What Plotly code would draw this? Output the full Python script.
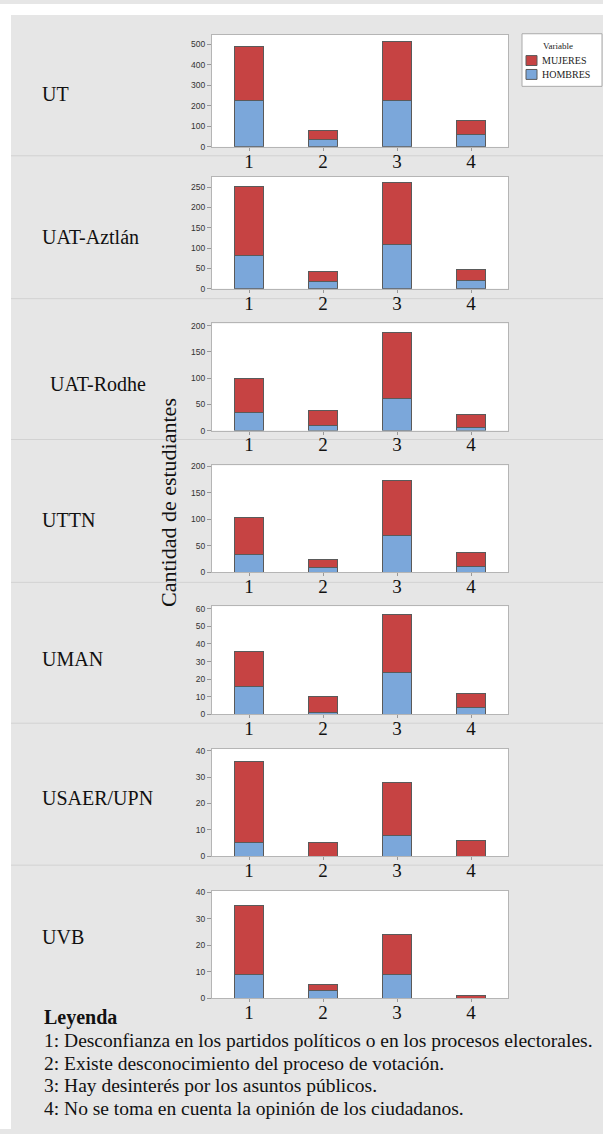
import plotly.graph_objects as go

W, H = 603, 1134

categories = [1, 2, 3, 4]
tick_labels = ["1", "2", "3", "4"]
institutions = ["UT", "UAT-Aztlán", "UAT-Rodhe", "UTTN", "UMAN", "USAER/UPN", "UVB"]

hombres = {
    "UT": [224, 38, 224, 62],
    "UAT-Aztlán": [83, 17, 109, 20],
    "UAT-Rodhe": [35, 9, 62, 6],
    "UTTN": [34, 10, 70, 12],
    "UMAN": [16, 1, 24, 4],
    "USAER/UPN": [5, 0, 8, 0],
    "UVB": [9, 3, 9, 0],
}
mujeres = {
    "UT": [266, 42, 289, 68],
    "UAT-Aztlán": [169, 26, 152, 28],
    "UAT-Rodhe": [65, 29, 125, 25],
    "UTTN": [70, 15, 103, 26],
    "UMAN": [20, 9, 33, 8],
    "USAER/UPN": [31, 5, 20, 6],
    "UVB": [26, 2, 15, 1],
}
y_max = [545, 276, 204, 202, 61.5, 40.6, 40.6]
y_dtick = [100, 50, 50, 50, 10, 10, 10]

series_names = ["MUJERES", "HOMBRES"]
legend_heading = "Variable"

legend_title = "Leyenda"
legend_lines = [
    "1: Desconfianza en los partidos políticos o en los procesos electorales.",
    "2: Existe desconocimiento del proceso de votación.",
    "3: Hay desinterés por los asuntos públicos.",
    "4: No se toma en cuenta la opinión de los ciudadanos.",
]

# layout geometry (pixels)
plot_x = (212, 508)
plot_y = [(31, 144), (174, 287), (322, 430), (465, 573), (607, 716), (751, 859), (894, 1002)]
label_pos = [(40, 91), (40, 235), (48, 383), (40, 520), (40, 660), (40, 800), (40, 940)]
separators = [153, 297, 439, 583, 725, 868]

RED = "#c64343"
BLUE = "#7ba7da"
SERIF = "Liberation Serif, Times New Roman, serif"

def px(x):
    return x / W

def py(y):
    return 1 - y / H

fig = go.Figure()
layout = {}
annotations = []
shapes = []

for i, inst in enumerate(institutions):
    n = i + 1
    xa = "x" if n == 1 else f"x{n}"
    ya = "y" if n == 1 else f"y{n}"
    fig.add_trace(go.Bar(
        x=categories, y=hombres[inst], name="HOMBRES", xaxis=xa, yaxis=ya,
        marker=dict(color=BLUE, line=dict(color="#5a5a5a", width=1)),
        width=0.4, showlegend=False,
    ))
    fig.add_trace(go.Bar(
        x=categories, y=mujeres[inst], name="MUJERES", xaxis=xa, yaxis=ya,
        marker=dict(color=RED, line=dict(color="#5a5a5a", width=1)),
        width=0.4, showlegend=False,
    ))
    xkey = "xaxis" if n == 1 else f"xaxis{n}"
    ykey = "yaxis" if n == 1 else f"yaxis{n}"
    top, bot = plot_y[i]
    layout[xkey] = dict(
        domain=[px(plot_x[0]), px(plot_x[1])], anchor=ya, range=[0.5, 4.5],
        tickvals=categories, ticktext=tick_labels, ticks="outside", ticklen=3,
        tickcolor="#999999", showgrid=False, zeroline=False,
        showline=True, linecolor="#b5b5b5", linewidth=1, mirror=True,
        tickfont=dict(family=SERIF, size=19, color="#111111"), fixedrange=True,
        ticklabelstandoff=-6,
    )
    layout[ykey] = dict(
        domain=[py(bot), py(top)], anchor=xa, range=[0, y_max[i]],
        dtick=y_dtick[i], tick0=0, ticks="outside", ticklen=4, tickcolor="#999999",
        showgrid=False, zeroline=False,
        showline=True, linecolor="#b5b5b5", linewidth=1, mirror=True,
        tickfont=dict(family="Liberation Sans, Arial, sans-serif", size=8.5, color="#333333"),
        fixedrange=True,
    )
    lx, ly = label_pos[i]
    annotations.append(dict(
        text=inst, x=px(lx), y=py(ly), xref="paper", yref="paper",
        xanchor="left", yanchor="middle", showarrow=False,
        font=dict(family=SERIF, size=20, color="#111111"),
    ))

# y-axis title
annotations.append(dict(
    text="Cantidad de estudiantes", x=px(168), y=py(503), xref="paper", yref="paper",
    xanchor="center", yanchor="middle", textangle=-90, showarrow=False,
    font=dict(family=SERIF, size=22, color="#111111"),
))

# bottom legend text
annotations.append(dict(
    text=f"<b>{legend_title}</b>", x=px(42), y=py(1022), xref="paper", yref="paper",
    xanchor="left", yanchor="middle", showarrow=False,
    font=dict(family=SERIF, size=20, color="#111111"),
))
for j, line in enumerate(legend_lines):
    annotations.append(dict(
        text=line, x=px(42), y=py([1045, 1068, 1090, 1113][j]), xref="paper", yref="paper",
        xanchor="left", yanchor="middle", showarrow=False,
        font=dict(family=SERIF, size=19.5, color="#111111"),
    ))

# series legend box (top right)
shapes.append(dict(type="rect", xref="paper", yref="paper", x0=px(522), x1=px(602),
                   y0=py(83), y1=py(30), fillcolor="white",
                   line=dict(color="#aaaaaa", width=1)))
annotations.append(dict(
    text=legend_heading, x=px(558), y=py(42), xref="paper", yref="paper",
    xanchor="center", yanchor="middle", showarrow=False,
    font=dict(family=SERIF, size=9, color="#222222"),
))
for k, (nm, col, yc) in enumerate(zip(series_names, [RED, BLUE], [57, 71])):
    shapes.append(dict(type="rect", xref="paper", yref="paper", x0=px(526), x1=px(537),
                       y0=py(yc + 5), y1=py(yc - 5), fillcolor=col,
                       line=dict(color="#5a5a5a", width=1)))
    annotations.append(dict(
        text=nm, x=px(540), y=py(yc), xref="paper", yref="paper",
        xanchor="left", yanchor="middle", showarrow=False,
        font=dict(family=SERIF, size=10, color="#222222"),
    ))

# white strips (top and left)
shapes.append(dict(type="rect", xref="paper", yref="paper", x0=0, x1=1, y0=py(11), y1=1,
                   fillcolor="white", line=dict(width=0), layer="below"))
shapes.append(dict(type="rect", xref="paper", yref="paper", x0=0, x1=px(11), y0=0, y1=1,
                   fillcolor="white", line=dict(width=0), layer="below"))
for s in separators:
    shapes.append(dict(type="line", xref="paper", yref="paper", x0=px(11), x1=1,
                       y0=py(s), y1=py(s), line=dict(color="#d2d2d2", width=1), layer="below"))

fig.update_layout(
    width=W, height=H, margin=dict(l=0, r=0, t=0, b=0, pad=0),
    paper_bgcolor="#e6e6e6", plot_bgcolor="white",
    barmode="stack", showlegend=False,
    annotations=annotations, shapes=shapes,
    **layout,
)

fig.write_html(
    "out.html",
    config={"displayModeBar": False},
    post_script="document.body.style.margin='0';document.body.style.overflow='hidden';",
)
